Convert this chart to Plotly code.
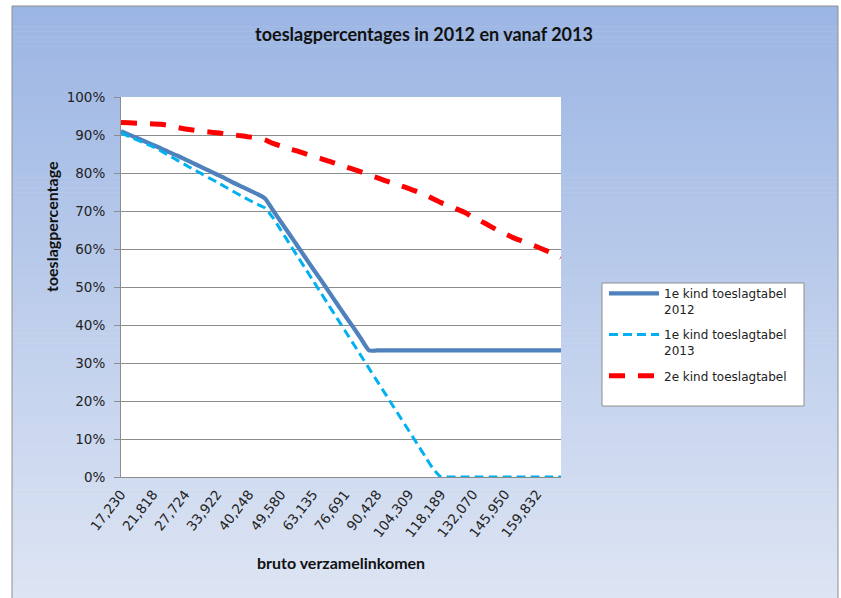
import plotly.graph_objects as go

# ---------------- data ----------------
income_labels = ["17,230", "21,818", "27,724", "33,922", "40,248", "49,580", "63,135",
                 "76,691", "90,428", "104,309", "118,189", "132,070", "145,950", "159,832"]
label_every = 4          # every 4th table row carries a label
n_rows = 56              # rows in the toeslagtabel

kind1_2012 = [91.0, 90.1, 89.2, 88.3, 87.4, 86.5, 85.5, 84.6, 83.6, 82.6, 81.6, 80.6,
              79.6, 78.6, 77.5, 76.5, 75.5, 74.5, 73.3,
              70.2, 67.1, 64.1, 61.0, 57.9, 54.8, 51.8, 48.7, 45.6, 42.5, 39.5, 36.4,
              33.3, 33.3, 33.3, 33.3, 33.3, 33.3, 33.3, 33.3, 33.3, 33.3, 33.3, 33.3,
              33.3, 33.3, 33.3, 33.3, 33.3, 33.3, 33.3, 33.3, 33.3, 33.3, 33.3, 33.3, 33.3]

kind1_2013 = [90.6, 89.6, 88.7, 87.8, 86.9, 85.8, 84.6, 83.4, 82.2, 81.0, 79.9, 78.7,
              77.6, 76.4, 75.2, 74.0, 72.9, 71.8, 70.8,
              68.2, 64.9, 61.6, 58.3, 55.0, 51.7, 48.4, 45.1, 41.8, 38.5, 35.2, 31.9,
              28.6, 25.3, 22.0, 18.7, 15.4, 12.1, 8.8, 5.5, 2.2,
              0, 0, 0, 0, 0, 0, 0, 0, 0, 0, 0, 0, 0, 0, 0, 0]

kind2 = [93.3, 93.2, 93.1, 93.0, 92.9, 92.8, 92.5, 92.0, 91.6, 91.3, 91.0, 90.8,
         90.6, 90.3, 90.0, 89.8, 89.5, 89.2, 88.7, 87.8, 87.1, 86.4, 85.8, 85.1,
         84.4, 83.8, 83.1, 82.4, 81.7, 81.0, 80.3, 79.5, 78.8, 78.0, 77.3, 76.6,
         75.9, 75.1, 74.3, 73.2, 72.2, 71.4, 70.5, 69.6, 68.3, 67.3, 66.2, 65.0,
         64.0, 63.0, 62.2, 61.4, 60.6, 59.7, 58.8, 57.8]

series_names = ["1e kind toeslagtabel<br>2012", "1e kind toeslagtabel<br>2013", "2e kind toeslagtabel"]

# ---------------- layout geometry ----------------
W, H = 841, 598
PW, PH = 440, 380
L, T = 121, 97
R = W - L - PW
B = H - T - PH


def px_x(p):
    """page pixel x -> paper coordinate"""
    return (p - L) / PW


def px_y(p):
    """page pixel y -> paper coordinate"""
    return (T + PH - p) / PH


rows = list(range(n_rows))
tick_pos = rows[::label_every][:len(income_labels)]

fig = go.Figure()
fig.add_trace(go.Scatter(x=rows, y=kind1_2012, mode="lines", name=series_names[0],
                         legendgroup="a",
                         line=dict(color="#4F81BD", width=4.2, shape="spline", smoothing=0.5),
                         cliponaxis=False))
fig.add_trace(go.Scatter(x=rows, y=kind1_2013, mode="lines", name=series_names[1],
                         legendgroup="b",
                         line=dict(color="#00B0F0", width=3, dash="9px,5px", shape="spline", smoothing=0.5),
                         cliponaxis=False))
fig.add_trace(go.Scatter(x=rows, y=kind2, mode="lines", name=series_names[2],
                         legendgroup="c",
                         line=dict(color="#FF0000", width=5, dash="16px,13px", shape="spline", smoothing=0.5),
                         cliponaxis=False))

# background gradient (chart area)
shapes = []
top_c = (155, 181, 227)
bot_c = (223, 230, 244)
y_top, y_bot = 6, 610
nb = 120
for k in range(nb):
    f = (k + 0.5) / nb
    c = tuple(round(top_c[j] + (bot_c[j] - top_c[j]) * f) for j in range(3))
    ya = y_top + (y_bot - y_top) * k / nb
    yb = y_top + (y_bot - y_top) * (k + 1) / nb + 0.6
    shapes.append(dict(type="rect", xref="paper", yref="paper", layer="below",
                       x0=px_x(12), x1=px_x(838), y0=px_y(yb), y1=px_y(ya),
                       fillcolor="rgb(%d,%d,%d)" % c, line=dict(width=0)))
# chart border
shapes.append(dict(type="rect", xref="paper", yref="paper", layer="below",
                   x0=px_x(12), x1=px_x(838), y0=px_y(610), y1=px_y(6),
                   line=dict(color="#8E8E8E", width=1)))
# plot area
shapes.append(dict(type="rect", xref="paper", yref="paper", layer="below",
                   x0=0, x1=1, y0=0, y1=1, fillcolor="white", line=dict(width=0)))
# legend box
shapes.append(dict(type="rect", xref="paper", yref="paper", layer="below",
                   x0=px_x(602), x1=px_x(804), y0=px_y(406), y1=px_y(283),
                   fillcolor="white", line=dict(color="#8E8E8E", width=1)))

title_font = dict(family="Lato", size=16, color="#111")

fig.update_layout(
    width=W, height=H,
    margin=dict(l=L, r=R, t=T, b=B),
    paper_bgcolor="white",
    plot_bgcolor="rgba(0,0,0,0)",
    shapes=shapes,
    title=dict(text="<b>toeslagpercentages in 2012 en vanaf 2013</b>",
               x=424 / W, xanchor="center", y=1 - 35 / H, yanchor="middle",
               font=dict(family="Lato", size=18, color="#111")),
    showlegend=True,
    legend=dict(x=px_x(604), y=px_y(279), xanchor="left", yanchor="top",
                bgcolor="rgba(0,0,0,0)", borderwidth=0, valign="top",
                traceorder="grouped",
                font=dict(family="DejaVu Sans", size=12, color="#222"),
                itemwidth=50, tracegroupgap=7),
    xaxis=dict(range=[0, n_rows - 1], tickmode="array", tickvals=tick_pos,
               ticktext=income_labels, tickangle=-52, showgrid=False,
               showline=True, linecolor="#8E8E8E", linewidth=1, ticks="",
               ticklabelstandoff=3,
               zeroline=False, tickfont=dict(family="DejaVu Sans", size=13.5, color="#222")),
    yaxis=dict(range=[0, 100], dtick=10, ticksuffix="%", showgrid=True,
               gridcolor="#8C8C8C", gridwidth=1, showline=True, linecolor="#8E8E8E",
               linewidth=1, ticks="outside", ticklen=6, tickcolor="#8E8E8E",
               ticklabelstandoff=6,
               zeroline=False, tickfont=dict(family="DejaVu Sans", size=13.5, color="#222")),
    annotations=[
        dict(text="<b>toeslagpercentage</b>", xref="paper", yref="paper",
             x=px_x(52), y=px_y(227), textangle=-90, showarrow=False,
             xanchor="center", yanchor="middle", font=title_font),
        dict(text="<b>bruto verzamelinkomen</b>", xref="paper", yref="paper",
             x=px_x(341), y=px_y(562), showarrow=False,
             xanchor="center", yanchor="middle", font=title_font),
    ],
)

fig.write_html("out.html", config={"displayModeBar": False},
               post_script="document.body.style.margin='0px';")
